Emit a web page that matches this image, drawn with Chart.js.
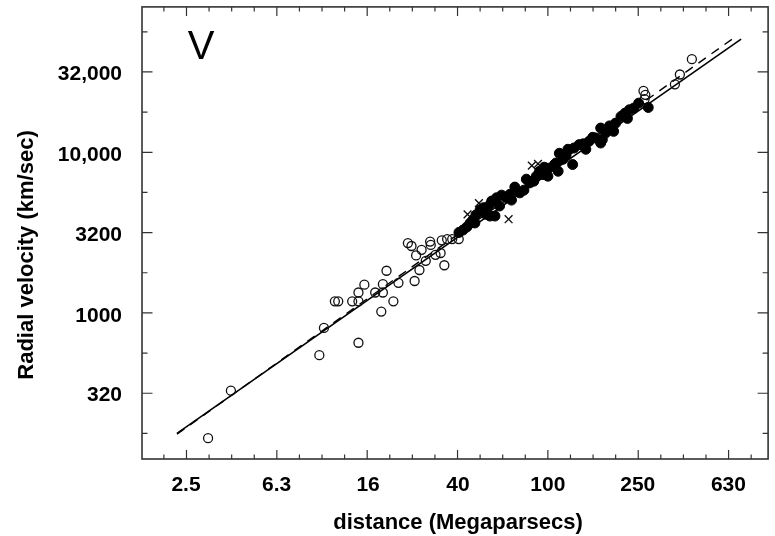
<!DOCTYPE html>
<html>
<head>
<meta charset="utf-8">
<script src="https://cdn.jsdelivr.net/npm/chart.js@4.4.0/dist/chart.umd.min.js"></script>
<style>
  html, body { margin: 0; padding: 0; background: #fff; }
</style>
</head>
<body>
<canvas id="chart" width="775" height="536"></canvas>
<script>
// open circles (distance in Mpc, velocity in km/s)
const openDist = [3.13, 3.95, 9.73, 10.2, 11.4, 11.8, 13.6, 14.5, 14.5, 14.5,
    15.4, 17.2, 18.3, 18.6, 18.6, 19.3, 20.7, 21.8, 24.0, 24.9,
    25.7, 26.1, 27.0, 27.6, 28.8, 30.1, 30.3, 31.8, 33.5, 34.8,
    33.9, 35.8, 37.7, 40.3, 265, 270, 268, 365, 384, 434];
const openVel = [166, 328, 546, 807, 1180, 1180, 1180, 652, 1180, 1340,
    1500, 1340, 1020, 1340, 1510, 1830, 1180, 1540, 2720, 2610,
    1580, 2280, 1850, 2470, 2110, 2780, 2650, 2300, 2360, 1980,
    2830, 2880, 2880, 2880, 24100, 22800, 21400, 26500, 30500, 38000];

// filled circles
const filledDist = [40.4, 42.1, 43.8, 45.3, 46.6, 47.5, 48.0, 50.1, 51.9, 53.1,
    54.7, 55.4, 58.3, 56.4, 59.3, 61.1, 62.4, 65.6, 67.9, 69.0,
    71.4, 75.1, 78.3, 80.3, 83.1, 86.6, 88.9, 91.9, 95.1, 96.3,
    100, 100.3, 106.9, 108.7, 111, 112.4, 116.7, 120.3, 122.7, 128.7,
    130.5, 137.6, 143.6, 147.2, 152.2, 158.0, 162.9, 171.3, 171.3, 174.2,
    180.2, 187.6, 195.4, 199.4, 210.7, 219.4, 225, 229.6, 239.8, 252.2, 278.2];
const filledVel = [3170, 3280, 3430, 3630, 3790, 3630, 4070, 4370, 4520, 4110,
    4630, 4010, 4010, 4970, 5210, 4630, 5410, 5210, 5470, 5040,
    6070, 5590, 5810, 6800, 6450, 6610, 7100, 7620, 7270, 8070,
    7100, 7960, 8390, 8580, 7620, 9860, 9050, 9580, 10440, 8390,
    10630, 11160, 11290, 10440, 11700, 12390, 12270, 11420, 14150, 11990,
    13180, 14600, 13500, 15190, 16720, 17520, 16250, 18390, 18820, 20220, 19010];

// crosses
const crossDist = [44.1, 49.5, 67.0, 84.9, 90.4];
const crossVel = [4110, 4830, 3830, 8250, 8470];

// fitted lines
const fitDist = [2.28, 717];
const fitVel = [178, 50700];
const altFitDist = [2.28, 677];
const altFitVel = [176, 52400];

// axis tick labels
const xTickLabels = [2.5, 6.3, 16, 40, 100, 250, 630];
const yTickLabels = [320, 1000, 3200, 10000, 32000];

const toPoints = (xs, ys) => xs.map((v, i) => ({ x: v, y: ys[i] }));

const tickFont = { family: "'Liberation Sans', Arial, sans-serif", size: 21, weight: 'bold' };

function fmtVel(v) {
    if (v < 10000) return String(v);
    const s = String(v);
    return s.slice(0, s.length - 3) + ',' + s.slice(-3);
}

// frame with inward ticks on all four sides, plus titles and panel letter
const frameTicks = {
    id: 'frameTicks',
    afterDatasetsDraw(chart) {
        const { ctx, chartArea: a, scales: { x, y } } = chart;
        ctx.save();
        ctx.strokeStyle = '#333';
        ctx.lineWidth = 1.2;
        ctx.beginPath();
        for (let k = 3; k <= 29; k++) {
            const px = x.getPixelForValue(Math.pow(10, k / 10));
            const len = k % 4 === 0 ? 9 : 4.5;
            ctx.moveTo(px, a.bottom); ctx.lineTo(px, a.bottom - len);
            ctx.moveTo(px, a.top); ctx.lineTo(px, a.top + len);
        }
        for (let k = 9; k <= 19; k++) {
            const py = y.getPixelForValue(Math.pow(10, k / 4));
            const len = k % 2 === 0 ? 10.5 : 5.5;
            ctx.moveTo(a.left, py); ctx.lineTo(a.left + len, py);
            ctx.moveTo(a.right, py); ctx.lineTo(a.right - len, py);
        }
        ctx.stroke();
        ctx.lineWidth = 1.6;
        ctx.strokeRect(a.left, a.top, a.right - a.left, a.bottom - a.top);
        ctx.restore();
    },
    afterDraw(chart) {
        const { ctx } = chart;
        ctx.save();
        ctx.fillStyle = '#000';
        ctx.textAlign = 'center';
        ctx.textBaseline = 'middle';
        ctx.font = "bold 22px 'Liberation Sans', Arial, sans-serif";
        ctx.fillText('distance (Megaparsecs)', 458, 523);
        ctx.save();
        ctx.translate(27, 255);
        ctx.rotate(-Math.PI / 2);
        ctx.fillText('Radial velocity (km/sec)', 0, 0);
        ctx.restore();
        ctx.font = "40px 'Liberation Sans', Arial, sans-serif";
        ctx.fillText('V', 201, 48);
        ctx.restore();
    }
};

const ctx = document.getElementById('chart').getContext('2d');

const chart = new Chart(ctx, {
    type: 'scatter',
    data: {
        datasets: [
            {
                label: 'filled',
                data: toPoints(filledDist, filledVel),
                pointStyle: 'circle',
                pointRadius: 5,
                backgroundColor: '#000',
                borderColor: '#000',
                borderWidth: 1
            },
            {
                label: 'open',
                data: toPoints(openDist, openVel),
                pointStyle: 'circle',
                pointRadius: 4.5,
                backgroundColor: 'rgba(0,0,0,0)',
                borderColor: '#111',
                borderWidth: 1.3
            },
            {
                label: 'cross',
                data: toPoints(crossDist, crossVel),
                pointStyle: 'crossRot',
                pointRadius: 5.5,
                borderColor: '#111',
                borderWidth: 1.4
            },
            {
                label: 'fit',
                data: toPoints(fitDist, fitVel),
                showLine: true,
                pointRadius: 0,
                borderColor: '#000',
                borderWidth: 1.6
            },
            {
                label: 'fit2',
                data: toPoints(altFitDist, altFitVel),
                showLine: true,
                pointRadius: 0,
                borderColor: '#000',
                borderWidth: 1.4,
                borderDash: [9, 7]
            }
        ]
    },
    options: {
        responsive: false,
        animation: false,
        layout: { padding: { top: 5, right: 1, left: 0, bottom: 0 } },
        plugins: {
            legend: { display: false },
            tooltip: { enabled: false }
        },
        scales: {
            x: {
                type: 'logarithmic',
                bounds: 'data',
                min: 1.596,
                max: 944,
                grid: { display: false, drawTicks: false },
                border: { display: false },
                afterBuildTicks: s => { s.ticks = xTickLabels.map(v => ({ value: v })); },
                afterFit: s => {
                    s.height = 77;
                    s.paddingLeft = 0;
                    s.paddingRight = 0;
                },
                ticks: {
                    autoSkip: false,
                    maxRotation: 0,
                    padding: 14,
                    color: '#000',
                    font: tickFont,
                    callback: v => String(v)
                }
            },
            y: {
                type: 'logarithmic',
                bounds: 'data',
                min: 123.2,
                max: 80360,
                grid: { display: false, drawTicks: false },
                border: { display: false },
                afterBuildTicks: s => { s.ticks = yTickLabels.map(v => ({ value: v })); },
                afterFit: s => {
                    s.width = 142;
                    s.paddingTop = 0;
                    s.paddingBottom = 0;
                },
                ticks: {
                    autoSkip: false,
                    padding: 20,
                    labelOffset: 3,
                    color: '#000',
                    font: tickFont,
                    callback: v => fmtVel(v)
                }
            }
        }
    },
    plugins: [frameTicks]
});
</script>
</body>
</html>
